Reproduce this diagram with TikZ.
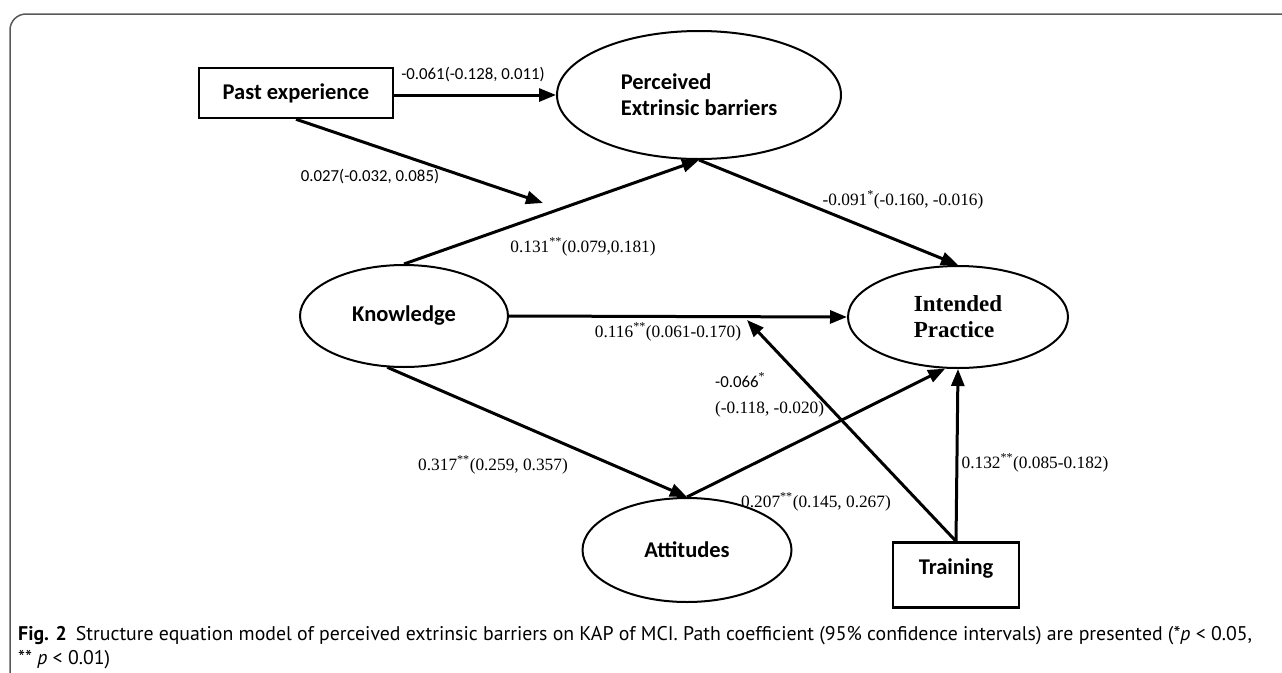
\documentclass[tikz,border=0pt]{standalone}
\usepackage{fontspec}
\setmainfont{Liberation Serif}
\setsansfont{Carlito}
\newfontfamily\capfont{PT Sans}
\usetikzlibrary{arrows.meta,shapes.geometric}

\tikzset{
  latent/.style={ellipse,draw,line width=2pt,inner sep=0pt,
    font=\sffamily\bfseries\fontsize{22.5}{26}\selectfont},
  observed/.style={rectangle,draw,line width=2.5pt,inner sep=0pt,
    font=\sffamily\bfseries\fontsize{22.5}{26}\selectfont},
  causal/.style={line width=3pt,-{Triangle[length=17pt,width=13pt]}},
  coef/.style={font=\fontsize{17.3}{26}\selectfont,inner sep=0pt},
  coefsf/.style={font=\sffamily\fontsize{16.8}{20}\selectfont,inner sep=0pt},
}

\begin{document}
\begin{tikzpicture}[x=1pt,y=-1pt]
\useasboundingbox (0,0) rectangle (1282,672);
\clip (0,0) rectangle (1282,672);
% frame
\draw[line width=1.5pt,black!65,rounded corners=16pt] (10,14) rectangle (1310,700);

% constructs
\node[observed,minimum width=194pt,minimum height=50pt] (past) at (296,93) {Past experience};
\node[latent,minimum width=284pt,minimum height=128pt,align=left] (barrier) at (699,95) {Perceived\\Extrinsic barriers};
\node[latent,minimum width=208pt,minimum height=102pt] (know) at (404,316) {Knowledge};
\node[latent,minimum width=220pt,minimum height=102pt,align=left,
  font=\bfseries\fontsize{23}{26}\selectfont] (intend) at (958,317) {Intended\\Practice};
\node[latent,minimum width=209pt,minimum height=104pt] (att) at (687,550) {Attitudes};
\node[observed,minimum width=126pt,minimum height=65pt,text depth=16pt] (train) at (956,575) {Training};

% free ends
\coordinate (pxend) at (543,203);
\coordinate (trend) at (747,320);

% paths
\draw[causal] (past.east |- barrier.west) -- (barrier.west);
\draw[causal] (past.south) -- (pxend);
\draw[causal] (know.north) -- (barrier.south);
\draw[causal] (barrier.south) -- (intend.north);
\draw[causal] (know.east) -- (intend.west);
\draw[causal] (know.252) -- (att.north);
\draw[causal] (att.north) -- (intend.256);
\draw[causal] (train.north) -- (intend.south);
\draw[causal] (train.north) -- (trend);

% coefficients
\node[coefsf] (lpb) at (473,75) {-0.061(-0.128, 0.011)};
\node[coefsf] (lpx) at (370,177) {0.027(-0.032, 0.085)};
\node[coef] (lkb) at (583,247) {0.131\textsuperscript{**}(0.079,0.181)};
\node[coef] (lbi) at (903,200) {-0.091\textsuperscript{*}(-0.160, -0.016)};
\node[coef] (lki) at (668,332) {0.116\textsuperscript{**}(0.061-0.170)};
\node[coef] (lka) at (493,465) {0.317\textsuperscript{**}(0.259, 0.357)};
\node[coef] (lai) at (816,502) {0.207\textsuperscript{**}(0.145, 0.267)};
\node[coef,anchor=west,align=left] (ltx) at (715,395) {{\sffamily\fontsize{16.8}{20}\selectfont -0.066}\textsuperscript{*}\\(-0.118, -0.020)};
\node[coef] (lti) at (1035,463) {0.132\textsuperscript{**}(0.085-0.182)};

% caption
\node[anchor=north west,align=left,inner sep=0pt,
  font=\capfont\fontsize{19.8}{24}\selectfont] (cap) at (18,626)
  {\textbf{Fig. 2}\hspace{9pt}Structure equation model of perceived extrinsic barriers on KAP of MCI. Path coefficient (95\% confidence intervals) are presented (*\textit{p} < 0.05,\\** \textit{p} < 0.01)};
\end{tikzpicture}
\end{document}
